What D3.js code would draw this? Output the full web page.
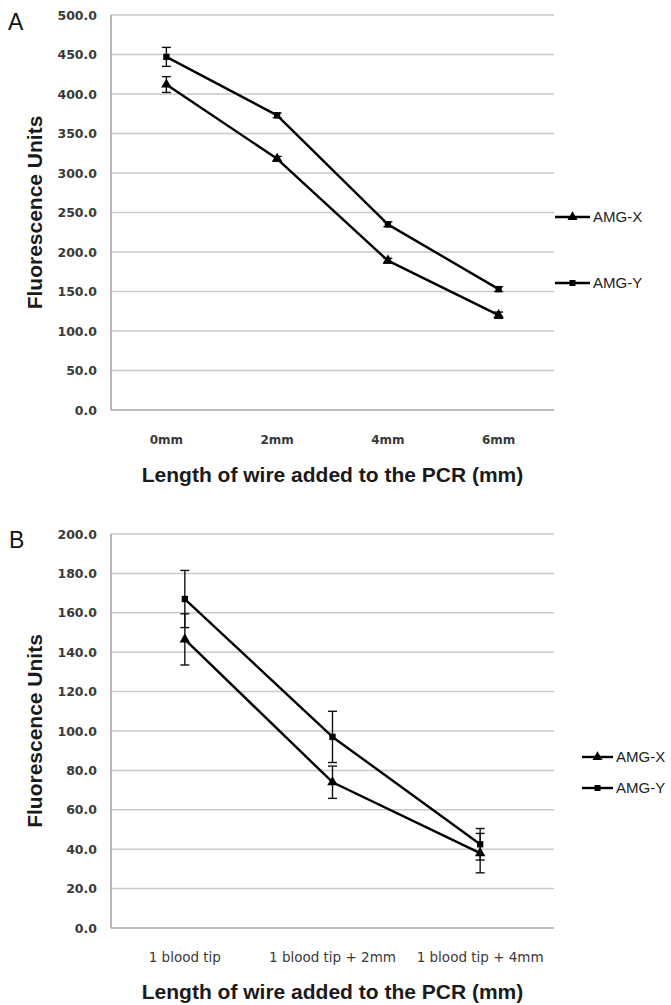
<!DOCTYPE html>
<html>
<head>
<meta charset="utf-8">
<script src="https://cdn.jsdelivr.net/npm/d3@7/dist/d3.min.js"></script>
<style>
  html, body { margin: 0; padding: 0; background: #fff; }
  svg { display: block; }
</style>
</head>
<body>
<svg id="chart" width="671" height="1005"></svg>
<script>
// ---------- Data ----------
const seriesNames = ["AMG-X", "AMG-Y"];

const categoriesA = ["0mm", "2mm", "4mm", "6mm"];
const amgX_A = [412, 318, 189, 120];
const amgX_A_err = [10, 3, 3, 4];
const amgY_A = [447, 373, 235, 153];
const amgY_A_err = [12, 3, 3, 3];
const yTicksA = [0, 50, 100, 150, 200, 250, 300, 350, 400, 450, 500];

const categoriesB = ["1 blood tip", "1 blood tip + 2mm", "1 blood tip + 4mm"];
const amgX_B = [146.5, 74, 38];
const amgX_B_err = [13, 8.2, 10];
const amgY_B = [167, 97, 42.5];
const amgY_B_err = [14.5, 13, 8];
const yTicksB = [0, 20, 40, 60, 80, 100, 120, 140, 160, 180, 200];

const yTitle = "Fluorescence Units";
const xTitle = "Length of wire added to the PCR (mm)";

// ---------- Drawing ----------
const svg = d3.select("#chart");
const fmt = d3.format(".1f");

function drawPanel(opt) {
  const g = svg.append("g");
  const x = d3.scaleBand().domain(opt.categories).range([opt.left, opt.right]).padding(0);
  const y = d3.scaleLinear().domain([0, d3.max(opt.yTicks)]).range([opt.bottom, opt.top]);

  // gridlines
  g.append("g").selectAll("line").data(opt.yTicks.filter(d => d > 0)).join("line")
    .attr("x1", opt.left).attr("x2", opt.right)
    .attr("y1", d => y(d)).attr("y2", d => y(d))
    .attr("stroke", "#c9c9c9").attr("stroke-width", 1.5);

  // axes lines
  g.append("line").attr("x1", opt.left).attr("x2", opt.right)
    .attr("y1", opt.bottom).attr("y2", opt.bottom)
    .attr("stroke", "#a6a6a6").attr("stroke-width", 1.6);
  g.append("line").attr("x1", opt.left).attr("x2", opt.left)
    .attr("y1", opt.top).attr("y2", opt.bottom)
    .attr("stroke", "#a6a6a6").attr("stroke-width", 1.6);

  // y tick labels
  g.append("g").selectAll("text").data(opt.yTicks).join("text")
    .attr("x", 97).attr("y", d => y(d))
    .attr("dy", "0.36em")
    .attr("text-anchor", "end")
    .attr("font-family", "DejaVu Sans").attr("font-weight", "bold")
    .attr("font-size", 12.5).attr("fill", "#3a3a3a")
    .text(d => fmt(d));

  // x tick labels
  g.append("g").selectAll("text").data(opt.categories).join("text")
    .attr("x", d => x(d) + x.bandwidth() / 2).attr("y", opt.xLabelY)
    .attr("text-anchor", "middle")
    .attr("font-family", "DejaVu Sans").attr("font-weight", opt.xLabelWeight)
    .attr("font-size", opt.xLabelSize).attr("fill", "#3a3a3a")
    .text(d => d);

  // axis titles
  g.append("text")
    .attr("x", (opt.left + opt.right) / 2).attr("y", opt.xTitleY)
    .attr("text-anchor", "middle")
    .attr("font-family", "Liberation Sans").attr("font-weight", "bold")
    .attr("font-size", 21).attr("fill", "#1a1a1a")
    .text(xTitle);
  g.append("text")
    .attr("transform", `translate(42,${(opt.top + opt.bottom) / 2}) rotate(-90)`)
    .attr("text-anchor", "middle")
    .attr("font-family", "Liberation Sans").attr("font-weight", "bold")
    .attr("font-size", 21).attr("fill", "#1a1a1a")
    .text(yTitle);

  // panel letter
  g.append("text").attr("x", opt.letterX).attr("y", opt.letterY)
    .attr("font-family", "Liberation Sans").attr("font-size", 23).attr("fill", "#111")
    .text(opt.letter);

  const cx = d => x(d) + x.bandwidth() / 2;
  const series = [
    { name: seriesNames[0], vals: opt.xVals, errs: opt.xErrs, sym: d3.symbolTriangle, size: 48 },
    { name: seriesNames[1], vals: opt.yVals, errs: opt.yErrs, sym: d3.symbolSquare, size: 40 }
  ];

  series.forEach(s => {
    const pts = opt.categories.map((c, i) => ({ c, v: s.vals[i], e: s.errs[i] }));
    const line = d3.line().x(d => cx(d.c)).y(d => y(d.v));
    g.append("path").datum(pts).attr("d", line)
      .attr("fill", "none").attr("stroke", "#000").attr("stroke-width", 2.4)
      .attr("stroke-linejoin", "round");
    // error bars
    const eb = g.append("g").attr("stroke", "#111").attr("stroke-width", 1.4);
    eb.selectAll("line.v").data(pts).join("line").attr("class", "v")
      .attr("x1", d => cx(d.c)).attr("x2", d => cx(d.c))
      .attr("y1", d => y(d.v - d.e)).attr("y2", d => y(d.v + d.e));
    eb.selectAll("line.t").data(pts).join("line").attr("class", "t")
      .attr("x1", d => cx(d.c) - 4.5).attr("x2", d => cx(d.c) + 4.5)
      .attr("y1", d => y(d.v + d.e)).attr("y2", d => y(d.v + d.e));
    eb.selectAll("line.b").data(pts).join("line").attr("class", "b")
      .attr("x1", d => cx(d.c) - 4.5).attr("x2", d => cx(d.c) + 4.5)
      .attr("y1", d => y(d.v - d.e)).attr("y2", d => y(d.v - d.e));
    // markers
    g.append("g").selectAll("path").data(pts).join("path")
      .attr("transform", d => `translate(${cx(d.c)},${y(d.v)})`)
      .attr("d", d3.symbol().type(s.sym).size(s.size))
      .attr("fill", "#000");
  });

  // legend
  series.forEach((s, i) => {
    const ly = opt.legendY[i];
    g.append("line").attr("x1", opt.legendX).attr("x2", opt.legendX + opt.legendLen)
      .attr("y1", ly).attr("y2", ly).attr("stroke", "#000").attr("stroke-width", 2.4);
    g.append("path")
      .attr("transform", `translate(${opt.legendX + opt.legendLen / 2},${ly})`)
      .attr("d", d3.symbol().type(s.sym).size(s.size * 0.9)).attr("fill", "#000");
    g.append("text").attr("x", opt.legendX + opt.legendLen + 3).attr("y", ly)
      .attr("dy", "0.36em")
      .attr("font-family", "Liberation Sans").attr("font-size", 15).attr("fill", "#222")
      .text(s.name);
  });
}

drawPanel({
  letter: "A", letterX: 8, letterY: 30,
  categories: categoriesA, yTicks: yTicksA,
  xVals: amgX_A, xErrs: amgX_A_err, yVals: amgY_A, yErrs: amgY_A_err,
  left: 111, right: 554, top: 15, bottom: 410,
  xLabelY: 444, xLabelSize: 12, xLabelWeight: "bold",
  xTitleY: 482,
  legendX: 555, legendLen: 35, legendY: [217, 283]
});

drawPanel({
  letter: "B", letterX: 9, letterY: 548,
  categories: categoriesB, yTicks: yTicksB,
  xVals: amgX_B, xErrs: amgX_B_err, yVals: amgY_B, yErrs: amgY_B_err,
  left: 111, right: 554, top: 534, bottom: 928,
  xLabelY: 962, xLabelSize: 13.5, xLabelWeight: "normal",
  xTitleY: 999,
  legendX: 582, legendLen: 31, legendY: [757, 788]
});
</script>
</body>
</html>
